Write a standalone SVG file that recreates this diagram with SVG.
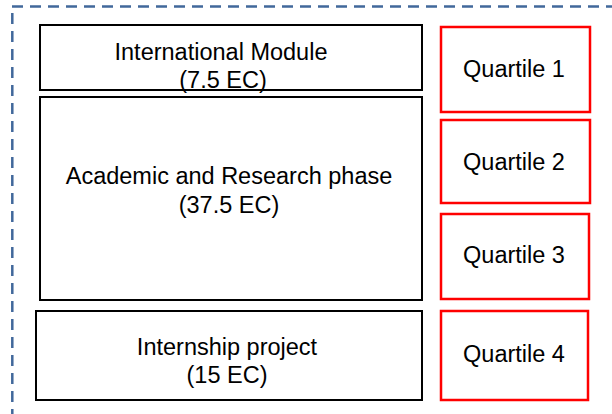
<svg xmlns="http://www.w3.org/2000/svg" width="612" height="414" viewBox="0 0 612 414">
<style>
.frame{fill:none;stroke:#41689B;stroke-width:2.5;stroke-dasharray:11 7}
.box{fill:#fff;stroke:#000;stroke-width:2}
.q{fill:#fff;stroke:#FF0000;stroke-width:2.5}
text{font-family:"Liberation Sans",Arial,sans-serif;font-size:23.5px;fill:#000;text-anchor:middle}
</style>
<rect width="612" height="414" fill="#fff"/>
<path class="frame" d="M12,6.5 H620"/>
<path class="frame" d="M12.3,13 V420"/>
<g id="international">
<rect class="box" x="40" y="25" width="382" height="65"/>
<text x="221" y="60">International Module</text>
<text x="223" y="88">(7.5 EC)</text>
</g>
<g id="academic">
<rect class="box" x="40" y="97" width="382" height="203"/>
<text x="229" y="184">Academic and Research phase</text>
<text x="229" y="213">(37.5 EC)</text>
</g>
<g id="internship">
<rect class="box" x="36" y="311" width="386" height="89"/>
<text x="227" y="355">Internship project</text>
<text x="227" y="383">(15 EC)</text>
</g>
<g id="q1">
<rect class="q" x="441" y="27" width="149" height="85"/>
<text x="514" y="77">Quartile 1</text>
</g>
<g id="q2">
<rect class="q" x="441" y="120" width="149" height="83"/>
<text x="514" y="170">Quartile 2</text>
</g>
<g id="q3">
<rect class="q" x="441" y="214" width="148" height="85"/>
<text x="514" y="263">Quartile 3</text>
</g>
<g id="q4">
<rect class="q" x="441" y="311" width="147" height="89"/>
<text x="514" y="362">Quartile 4</text>
</g>
<g id="connectors"/>
</svg>
